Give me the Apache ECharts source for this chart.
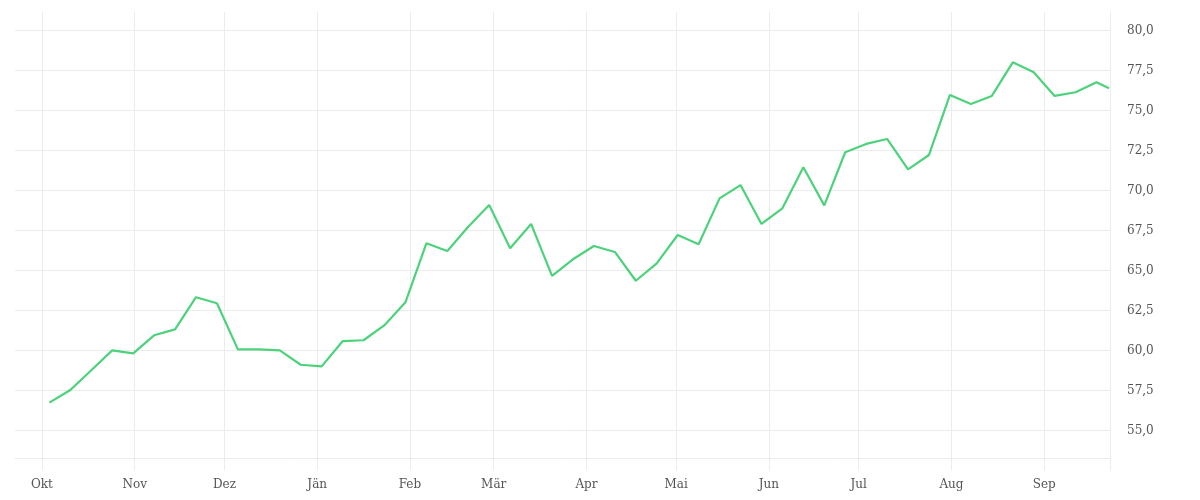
<!DOCTYPE html>
<html>
<head>
<meta charset="utf-8">
<script src="https://cdn.jsdelivr.net/npm/echarts@6/dist/echarts.min.js"></script>
<style>
html,body{margin:0;padding:0;background:#fff;}
#chart{width:1200px;height:500px;}
</style>
</head>
<body>
<div id="chart"></div>
<script>
const monthLabels = ['Jän','Feb','Mär','Apr','Mai','Jun','Jul','Aug','Sep','Okt','Nov','Dez'];

const dates = [
  '2022-10-03 12:00','2022-10-10 12:00','2022-10-17 12:00','2022-10-24 12:00','2022-10-31 12:00',
  '2022-11-07 12:00','2022-11-14 12:00','2022-11-21 12:00','2022-11-28 12:00',
  '2022-12-05 12:00','2022-12-12 12:00','2022-12-19 12:00','2022-12-26 12:00',
  '2023-01-02 12:00','2023-01-09 12:00','2023-01-16 12:00','2023-01-23 12:00','2023-01-30 12:00',
  '2023-02-06 12:00','2023-02-13 12:00','2023-02-20 12:00','2023-02-27 12:00',
  '2023-03-06 12:00','2023-03-13 12:00','2023-03-20 12:00','2023-03-27 12:00',
  '2023-04-03 12:00','2023-04-10 12:00','2023-04-17 12:00','2023-04-24 12:00',
  '2023-05-01 12:00','2023-05-08 12:00','2023-05-15 12:00','2023-05-22 12:00','2023-05-29 12:00',
  '2023-06-05 12:00','2023-06-12 12:00','2023-06-19 12:00','2023-06-26 12:00',
  '2023-07-03 12:00','2023-07-10 12:00','2023-07-17 12:00','2023-07-24 12:00','2023-07-31 12:00',
  '2023-08-07 12:00','2023-08-14 12:00','2023-08-21 12:00','2023-08-28 12:00',
  '2023-09-04 12:00','2023-09-11 12:00','2023-09-18 12:00','2023-09-22 16:00'
];

const values = [
  56.74, 57.53, 58.77, 60.01, 59.82,
  60.95, 61.32, 63.33, 62.95,
  60.07, 60.07, 60.01, 59.11,
  59.01, 60.58, 60.64, 61.58, 63.01,
  66.70, 66.22, 67.74, 69.09,
  66.39, 67.91, 64.66, 65.70,
  66.53, 66.16, 64.36, 65.45,
  67.22, 66.64, 69.51, 70.34, 67.91,
  68.89, 71.45, 69.07, 72.39,
  72.91, 73.22, 71.32, 72.22, 75.97,
  75.41, 75.91, 78.01, 77.39,
  75.91, 76.14, 76.76, 76.39
];

const xRange = ['2022-09-22 00:00', '2023-09-23 00:00'];
const yRange = [52.5, 81.15625];
const yStep = 2.5;

const gridColor = '#ececec';
const textStyle = { fontFamily: 'DejaVu Serif', fontSize: 12, color: '#555' };

const chart = echarts.init(document.getElementById('chart'), null, { renderer: 'canvas' });
chart.setOption({
  animation: false,
  backgroundColor: '#fff',
  grid: { left: 15, right: 90, top: 12, bottom: 29.5, containLabel: false, outerBoundsMode: 'none' },
  xAxis: {
    type: 'time',
    min: xRange[0],
    max: xRange[1],
    splitNumber: 12,
    offset: -12.5,
    axisLine: { show: true, lineStyle: { color: gridColor, width: 1 } },
    axisTick: { show: false },
    axisLabel: Object.assign({
      margin: 21,
      showMinLabel: false,
      showMaxLabel: false,
      formatter: function (v) { return monthLabels[new Date(v).getMonth()]; }
    }, textStyle),
    splitLine: { show: true, showMinLine: false, showMaxLine: false, lineStyle: { color: gridColor, width: 1 } }
  },
  yAxis: {
    type: 'value',
    position: 'right',
    min: yRange[0],
    max: yRange[1],
    interval: yStep,
    axisLine: { show: true, lineStyle: { color: gridColor, width: 1 } },
    axisTick: { show: false },
    axisLabel: Object.assign({
      margin: 17,
      padding: [3, 0, 0, 0],
      showMinLabel: false,
      showMaxLabel: false,
      formatter: function (v) { return v.toFixed(1).replace('.', ','); }
    }, textStyle),
    splitLine: { show: true, showMinLine: false, showMaxLine: false, lineStyle: { color: gridColor, width: 1 } }
  },
  series: [{
    type: 'line',
    data: dates.map((d, i) => [d, values[i]]),
    showSymbol: false,
    symbol: 'none',
    smooth: false,
    lineStyle: { color: '#4dd27c', width: 2.2 },
    itemStyle: { color: '#4dd27c' }
  }]
});
</script>
</body>
</html>
